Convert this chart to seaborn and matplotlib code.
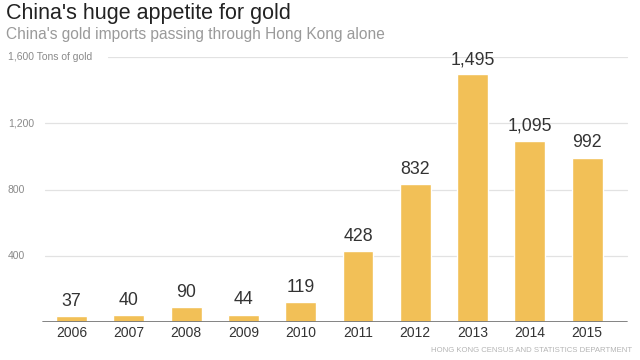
import matplotlib

matplotlib.use("Agg")
import matplotlib.pyplot as plt
import pandas as pd
import seaborn as sns

years = ["2006", "2007", "2008", "2009", "2010", "2011", "2012", "2013", "2014", "2015"]
tons = [37, 40, 90, 44, 119, 428, 832, 1495, 1095, 992]
grid_values = [400, 800, 1200, 1600]
grid_labels = ["400", "800", "1,200", "1,600 Tons of gold"]

BAR_COLOR = "#F2C057"
STEP = 57.26  # pixels between bar centres
FIRST = 71.7  # pixel centre of the first bar

sns.set_theme(style="white")
plt.rcParams["font.family"] = ["Liberation Sans", "DejaVu Sans"]

df = pd.DataFrame({"year": years, "tons": tons})

fig = plt.figure(figsize=(6.4, 3.6), dpi=100)
fig.patch.set_facecolor("white")
ax = fig.add_axes([0.0, 0.1056, 1.0, 0.736])

sns.barplot(data=df, x="year", y="tons", color=BAR_COLOR, width=0.54,
            saturation=1, ax=ax, zorder=3)

ax.set_xlim(-FIRST / STEP, (640 - FIRST) / STEP)
ax.set_ylim(0, 1600)
ax.set_xlabel("")
ax.set_ylabel("")
ax.set_yticks([])
for s in ax.spines.values():
    s.set_visible(False)
ax.tick_params(axis="x", length=0, pad=3, labelsize=10, labelcolor="#333333")

# gridlines with labels sitting at the left
for val, lab in zip(grid_values, grid_labels):
    start = 108 / 640 if val == 1600 else 45 / 640
    ax.axhline(val, xmin=start, xmax=627 / 640, color="#e2e2e2", lw=0.9, zorder=1)
    ax.text(8 / 640, val, lab, transform=ax.get_yaxis_transform(),
            ha="left", va="center", fontsize=7.5, color="#8a8a8a")

ax.axhline(0, xmin=43 / 640, xmax=627 / 640, color="#7a7a7a", lw=1.3, zorder=4)

for i, v in enumerate(tons):
    ax.annotate(f"{v:,}", (i, v), xytext=(0, 4.5), textcoords="offset points",
                ha="center", va="bottom", fontsize=12.8, color="#333333")

fig.text(6 / 640, 1 - 14 / 360, "China's huge appetite for gold",
         ha="left", va="center", fontsize=15.5, color="#222222")
fig.text(6 / 640, 1 - 35 / 360, "China's gold imports passing through Hong Kong alone",
         ha="left", va="center", fontsize=11.2, color="#9a9a9a")
fig.text(632 / 640, 1 - 351 / 360, "HONG KONG CENSUS AND STATISTICS DEPARTMENT",
         ha="right", va="center", fontsize=5.6, color="#b5b5b5")

fig.savefig("out.png", dpi=100, facecolor="white")
